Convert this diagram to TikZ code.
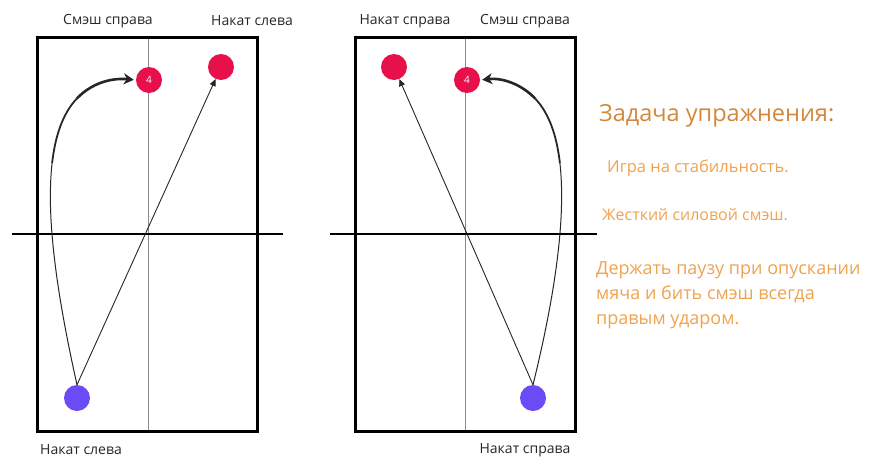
\documentclass[tikz,border=0pt]{standalone}
\usepackage{fontspec}
\setmainfont{Open Sans}
\usetikzlibrary{arrows.meta}
\definecolor{dotred}{HTML}{E8104A}
\definecolor{dotblue}{HTML}{6B4BF5}
\definecolor{titleor}{HTML}{D4873A}
\definecolor{bodyor}{HTML}{F0A24E}
\definecolor{centgray}{HTML}{8A8A8A}
\tikzset{
  court/.style={draw=black, line width=3pt},
  centreline/.style={draw=centgray, line width=0.9pt},
  netline/.style={draw=black, line width=2.2pt},
  reddot/.style={circle, fill=dotred, minimum size=26pt, inner sep=0pt, text=white, font=\fontsize{10}{10}\selectfont},
  bluedot/.style={circle, fill=dotblue, minimum size=26pt, inner sep=0pt},
  lbl/.style={font=\fontsize{14}{14}\selectfont, text=black!85, inner sep=0pt},
  straightarrow/.style={draw=black!85, line width=0.9pt, -{Triangle[length=7pt,width=6pt]}},
  curvethin/.style={draw=black!85, line width=1pt},
  curvemid/.style={draw=black!85, line width=1.8pt},
  curvethick/.style={draw=black!85, line width=2.6pt, -{Stealth[length=10pt,width=11pt,inset=3pt]}},
  titletext/.style={font=\fontsize{23.5}{23.5}\selectfont, text=titleor, anchor=west, inner sep=0pt},
  bodytext/.style={text=bodyor, anchor=west, inner sep=0pt, align=left}
}
\begin{document}
\begin{tikzpicture}[x=1pt,y=-1pt]
\useasboundingbox (0,0) rectangle (873,461);
% left court
\draw[centreline] (148,37) -- (148,431);
\draw[netline] (12,234) -- (283,234);
\draw[court] (37,37) rectangle (257,431);
% right court
\draw[centreline] (465,37) -- (465,431);
\draw[netline] (330,234) -- (597,234);
\draw[court] (355,37) rectangle (575,431);
% labels
\node[lbl] (tl1) at (108,21) {Смэш справа};
\node[lbl] (tl2) at (252,21) {Накат слева};
\node[lbl] (tr1) at (405,21) {Накат справа};
\node[lbl] (tr2) at (525,21) {Смэш справа};
\node[lbl] (bl1) at (81,450) {Накат слева};
\node[lbl] (br1) at (525,450) {Накат справа};
% dots
\node[reddot] (r4L) at (149,80) {4};
\node[reddot] (rL) at (221,67) {};
\node[bluedot] (bL) at (77,398) {};
\node[reddot] (r4R) at (467,80) {4};
\node[reddot] (rR) at (394,67) {};
\node[bluedot] (bR) at (533,398) {};
% left arrows
\draw[straightarrow] (bL.north) -- (rL);
\coordinate (cLb) at (52.1,163.1);
\coordinate (cLc) at (76.6,98.8);
\draw[curvethin] (bL.north) .. controls (57.5,297.5) and (45.75,218.75) .. (cLb);
\draw[curvemid] (cLb) .. controls (55.3,135.3) and (63.0,113.3) .. (cLc);
\draw[curvethick, shorten >=2pt] (cLc) .. controls (90.1,84.4) and (109.5,77.5) .. (r4L.west);
% right arrows
\draw[straightarrow] (bR.north) -- (rR);
\coordinate (cRb) at (559.9,163.1);
\coordinate (cRc) at (535.4,98.8);
\draw[curvethin] (bR.north) .. controls (554.5,297.5) and (566.25,218.75) .. (cRb);
\draw[curvemid] (cRb) .. controls (556.7,135.3) and (549.0,113.3) .. (cRc);
\draw[curvethick, shorten >=2pt] (cRc) .. controls (521.9,84.4) and (502.5,77.5) .. (r4R.east);
% task text
\node[titletext] (title) at (599,116) {Задача упражнения:};
\node[bodytext, font=\fontsize{16.5}{25}\selectfont] (t1) at (607,168) {Игра на стабильность.};
\node[bodytext, font=\fontsize{16}{25}\selectfont] (t2) at (602,215) {Жесткий силовой смэш.};
\node[bodytext, font=\fontsize{18}{25}\selectfont] (t3) at (596,295) {Держать паузу при опускании\\мяча и бить смэш всегда\\правым ударом.};
\end{tikzpicture}
\end{document}
